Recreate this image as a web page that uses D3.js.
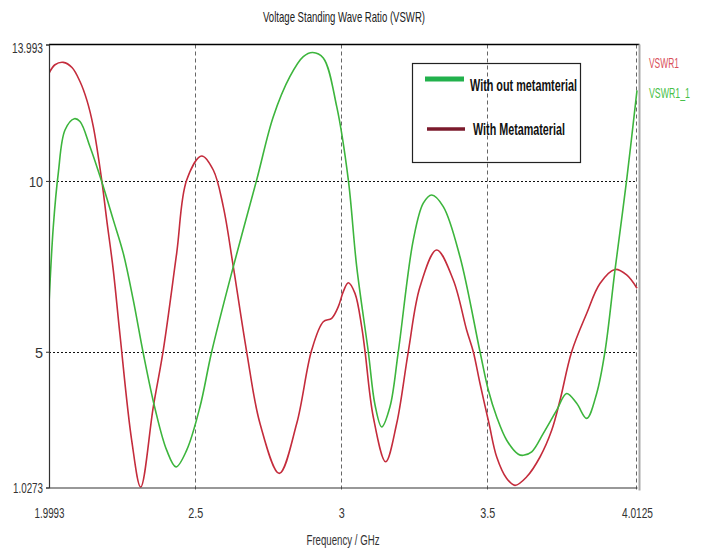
<!DOCTYPE html>
<html>
<head>
<meta charset="utf-8">
<script src="https://cdn.jsdelivr.net/npm/d3@7"></script>
<style>
  html, body { margin: 0; padding: 0; background: #fff; }
  svg { display: block; font-family: "Liberation Sans", Arial, sans-serif; }
</style>
</head>
<body>
<svg id="chart" width="701" height="548"></svg>
<script>
// ---------- data ----------
const chartTitle = "Voltage Standing Wave Ratio (VSWR)";
const xAxisTitle = "Frequency / GHz";
const xTickValues = [1.9993, 2.5, 3, 3.5, 4.0125];
const xTickLabels = ["1.9993", "2.5", "3", "3.5", "4.0125"];
const yTickValues = [1.0273, 5, 10, 13.993];
const yTickLabels = ["1.0273", "5", "10", "13.993"];
const seriesNames = ["With out metamterial", "With Metamaterial"];
const traceNames = ["VSWR1", "VSWR1_1"];

// With out metamaterial (green, VSWR1_1)
const freqWithout = [1.9993, 2.0140, 2.0311, 2.0541, 2.0859, 2.1054, 2.1397, 2.1797, 2.2194, 2.2537,
  2.2879, 2.3222, 2.3622, 2.4022, 2.4341, 2.4707, 2.5163, 2.5563, 2.6303, 2.7104,
  2.7672, 2.8244, 2.8699, 2.9021, 2.9384, 2.9843, 3.0241, 3.0527, 3.0925, 3.1154,
  3.1383, 3.1667, 3.1952, 3.2465, 3.2808, 3.3095, 3.3492, 3.4064, 3.4750, 3.5034,
  3.5322, 3.5664, 3.6062, 3.6233, 3.6520, 3.6918, 3.7376, 3.7717, 3.8059, 3.8402,
  3.8744, 3.9028, 3.9371, 3.9771, 4.0125];
const vswrWithout = [6.40, 8.66, 10.23, 11.49, 11.82, 11.74, 11.00, 9.98, 8.86, 7.88,
  6.51, 4.95, 3.34, 2.12, 1.63, 2.12, 3.39, 5.00, 7.49, 10.03,
  11.88, 13.06, 13.64, 13.76, 13.60, 12.18, 10.03, 7.50, 5.00, 3.45,
  2.80, 3.39, 5.00, 8.27, 9.35, 9.59, 9.25, 7.78, 5.00, 3.88,
  3.09, 2.41, 2.00, 1.97, 2.07, 2.61, 3.29, 3.78, 3.49, 3.05,
  3.78, 5.00, 7.39, 10.03, 12.65];

// With metamaterial (red, VSWR1)
const freqWith = [1.9993, 2.0198, 2.0483, 2.0780, 2.1054, 2.1294, 2.1510, 2.1797, 2.1969, 2.2194,
  2.2424, 2.2824, 2.3132, 2.3564, 2.3906, 2.4365, 2.4707, 2.5221, 2.5618, 2.5960,
  2.6303, 2.6761, 2.7217, 2.7878, 2.8474, 2.8987, 2.9384, 2.9672, 2.9898, 3.0069,
  3.0240, 3.0469, 3.0699, 3.0812, 3.1096, 3.1520, 3.1897, 3.2294, 3.2695, 3.3266,
  3.3835, 3.4294, 3.4520, 3.4750, 3.5058, 3.5322, 3.5664, 3.5948, 3.6349, 3.6804,
  3.7204, 3.7489, 3.7888, 3.8401, 3.8857, 3.9371, 3.9771, 4.0125];
const vswrWith = [13.15, 13.40, 13.47, 13.32, 12.91, 12.35, 11.59, 10.03, 8.86, 7.39,
  5.49, 2.41, 1.04, 3.39, 5.05, 7.89, 10.03, 10.73, 10.32, 9.25,
  7.49, 5.00, 2.90, 1.44, 2.90, 5.05, 5.88, 5.98, 6.32, 6.76,
  7.02, 6.71, 5.73, 5.02, 3.09, 1.78, 2.90, 5.00, 6.90, 7.98,
  7.10, 5.63, 5.00, 4.07, 2.90, 1.92, 1.29, 1.09, 1.34, 1.92,
  2.70, 3.58, 5.00, 6.12, 7.00, 7.41, 7.25, 6.86];

// ---------- layout ----------
const svg = d3.select("#chart");
const x = d3.scaleLinear().domain([1.9993, 4.0125]).range([49, 637]);
const y = d3.scaleLinear().domain([1.0273, 13.993]).range([487.5, 44.5]);
const pLeft = x.range()[0], pRight = x.range()[1] + 2.5;
const pTop = y.range()[1], pBottom = y.range()[0];

const greenCol = "#3db53d", redCol = "#c42c3c";
const labelFont = "\"Liberation Sans\", Arial, sans-serif";

function condense(sel, target) {
  sel.each(function () {
    d3.select(this).attr("textLength", target).attr("lengthAdjust", "spacingAndGlyphs");
  });
}

svg.append("rect").attr("width", 701).attr("height", 548).attr("fill", "#fff");

// title
svg.append("text").attr("x", 344).attr("y", 22).attr("text-anchor", "middle")
  .attr("font-size", 15).attr("fill", "#222").text(chartTitle)
  .call(condense, 162);

// gridlines
const grid = svg.append("g");
grid.selectAll("line.h").data([5, 10]).join("line")
  .attr("x1", pLeft).attr("x2", pRight - 2.5)
  .attr("y1", d => Math.round(y(d)) + 0.5).attr("y2", d => Math.round(y(d)) + 0.5)
  .attr("stroke", "#111").attr("stroke-width", 1).attr("stroke-dasharray", "2,2");
grid.selectAll("line.v").data([2.5, 3, 3.5, 4.0125]).join("line")
  .attr("x1", d => Math.round(x(d)) - (d > 4 ? 1 : 0) + 0.5)
  .attr("x2", d => Math.round(x(d)) - (d > 4 ? 1 : 0) + 0.5)
  .attr("y1", pTop).attr("y2", pBottom + 4)
  .attr("stroke", "#666").attr("stroke-width", 1).attr("stroke-dasharray", "4,3");

// curves
svg.append("clipPath").attr("id", "clip").append("rect")
  .attr("x", pLeft).attr("y", pTop - 2).attr("width", pRight - pLeft).attr("height", pBottom - pTop + 3);
const line = d3.line().x(d => x(d[0])).y(d => y(d[1])).curve(d3.curveCatmullRom.alpha(0.5));
const curves = svg.append("g").attr("clip-path", "url(#clip)");
curves.append("path").datum(d3.zip(freqWith, vswrWith))
  .attr("d", line).attr("fill", "none").attr("stroke", redCol).attr("stroke-width", 1.6);
curves.append("path").datum(d3.zip(freqWithout, vswrWithout))
  .attr("d", line).attr("fill", "none").attr("stroke", greenCol).attr("stroke-width", 1.6);

// frame
svg.append("line").attr("x1", pLeft).attr("x2", pRight).attr("y1", pTop).attr("y2", pTop)
  .attr("stroke", "#000").attr("stroke-width", 1.4);
svg.append("line").attr("x1", pRight).attr("x2", pRight).attr("y1", pTop).attr("y2", pBottom + 3)
  .attr("stroke", "#aaa").attr("stroke-width", 2);

// axes
const yWidths = [30, 8, 14, 31];
const yAxis = svg.append("g").attr("transform", `translate(${pLeft},0)`)
  .call(d3.axisLeft(y).tickValues(yTickValues).tickSize(3).tickPadding(3)
    .tickFormat((d, i) => yTickLabels[i]));
yAxis.select(".domain").attr("stroke", "#333").attr("stroke-width", 1.2);
yAxis.selectAll(".tick line").attr("stroke", "#333");
yAxis.selectAll(".tick text").attr("font-size", 15).attr("fill", "#333")
  .attr("font-family", labelFont)
  .attr("dy", (d, i) => i === yTickValues.length - 1 ? "0.55em" : "0.35em")
  .each(function (d, i) {
    d3.select(this).attr("textLength", yWidths[i]).attr("lengthAdjust", "spacingAndGlyphs");
  });

const xWidths = [30, 15, 6, 15, 31];
const xAxis = svg.append("g").attr("transform", `translate(0,${pBottom})`)
  .call(d3.axisBottom(x).tickValues(xTickValues).tickSize(0).tickPadding(30)
    .tickFormat((d, i) => xTickLabels[i]));
xAxis.select(".domain").attr("stroke", "#333").attr("stroke-width", 1.2);
xAxis.selectAll(".tick text").attr("font-size", 15).attr("fill", "#333")
  .attr("font-family", labelFont)
  .attr("dy", "0")
  .each(function (d, i) {
    d3.select(this).attr("textLength", xWidths[i]).attr("lengthAdjust", "spacingAndGlyphs");
  });

svg.append("text").attr("x", 343).attr("y", 545).attr("text-anchor", "middle")
  .attr("font-size", 15).attr("fill", "#333").text(xAxisTitle)
  .call(condense, 73);

// legend
const lg = svg.append("g");
lg.append("rect").attr("x", 412.5).attr("y", 63.5).attr("width", 168).attr("height", 99)
  .attr("fill", "none").attr("stroke", "#222").attr("stroke-width", 1.2);
lg.append("line").attr("x1", 425).attr("x2", 464).attr("y1", 79).attr("y2", 79)
  .attr("stroke", "#22b14c").attr("stroke-width", 5);
lg.append("text").attr("x", 470).attr("y", 91).attr("font-size", 17).attr("font-weight", "bold")
  .attr("fill", "#111").text(seriesNames[0]).call(condense, 107);
lg.append("line").attr("x1", 427).attr("x2", 465).attr("y1", 129).attr("y2", 129)
  .attr("stroke", "#7b1a2c").attr("stroke-width", 3.5);
lg.append("text").attr("x", 473).attr("y", 135).attr("font-size", 17).attr("font-weight", "bold")
  .attr("fill", "#111").text(seriesNames[1]).call(condense, 92);

// trace names on the right (scaled horizontally to the narrow look)
function narrowLabel(txt, px, py, target, color) {
  const t = svg.append("text").attr("x", 0).attr("y", 0).attr("font-size", 14)
    .attr("fill", color).text(txt);
  const w = t.node().getComputedTextLength();
  t.attr("transform", `translate(${px},${py}) scale(${target / w},1)`);
}
narrowLabel(traceNames[0], 649, 68, 30, "#d9505a");
narrowLabel(traceNames[1], 649, 98, 41, "#48bf48");
</script>
</body>
</html>
